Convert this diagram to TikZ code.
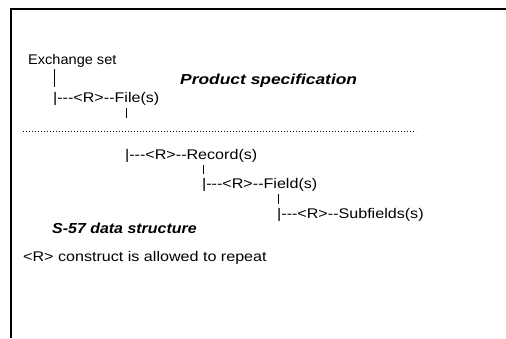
\documentclass[tikz,border=0pt]{standalone}
\usepackage{fontspec}
\setmainfont{Liberation Sans}[Ligatures=TeXOff,FakeStretch=1.15]
\newfontfamily\plainfont{Liberation Sans}[Ligatures=TeXOff,FakeStretch=1.04]
\newfontfamily\capfont{Liberation Sans}[Ligatures=TeXOff,FakeStretch=1.2]
\newfontfamily\narrowcapfont{Liberation Sans}[Ligatures=TeXOff,FakeStretch=1.1]
\begin{document}
\begin{tikzpicture}[x=1pt,y=-1pt]
    \tikzstyle{entry}=[anchor=base west,inner sep=0pt,font=\fontsize{14}{16}\selectfont]
    \tikzstyle{caption}=[anchor=base west,inner sep=0pt,font=\capfont\fontsize{14.5}{16}\selectfont\bfseries\itshape]
    \tikzstyle{stem}=[draw, line width=0.9pt]
    \tikzstyle{frame}=[draw, line width=1.4pt]
    \useasboundingbox (0,0) rectangle (506,338);
    \begin{scope}
        % frame
        \coordinate (tl) at (11,9);
        \coordinate (tr) at (506,9);
        \coordinate (bl) at (11,338);
        \path[frame] (tr) -- (tl) -- (bl);
        % tree
        \node [entry, font=\plainfont\fontsize{14}{16}\selectfont] (exch) at (28,64) {Exchange set};
        \node [caption] (prod) at (180,84) {Product specification};
        \node [entry] (file) at (53,102) {|---<R>--File(s)};
        \node [entry] (rec) at (125,159) {|---<R>--Record(s)};
        \node [entry] (fld) at (202,188) {|---<R>--Field(s)};
        \node [entry] (sub) at (277,218) {|---<R>--Subfields(s)};
        \node [caption, font=\narrowcapfont\fontsize{14.5}{16}\selectfont\bfseries\itshape] (s57) at (52,233) {S-57 data structure};
        \node [entry] (note) at (23,261) {<R> construct is allowed to repeat};
        \path[stem] ([xshift=1.8pt,yshift=-2pt]exch.south -| file.west) -- ([xshift=1.8pt,yshift=5pt]file.north west);
        \path[stem] ([xshift=1.8pt,yshift=-3pt]file.south -| rec.west) -- ++(0,10);
        \path[stem] ([xshift=1.8pt,yshift=-3pt]rec.south -| fld.west) -- ([xshift=1.8pt,yshift=4pt]fld.north west);
        \path[stem] ([xshift=1.8pt,yshift=-3pt]fld.south -| sub.west) -- ([xshift=1.8pt,yshift=4pt]sub.north west);
        % divider
        \coordinate (dl) at (23,131);
        \coordinate (dr) at (416,131);
        \path[draw, line width=0.8pt, dash pattern=on 0.8pt off 2.2pt] (dl) -- (dr);
    \end{scope}
\end{tikzpicture}
\end{document}
